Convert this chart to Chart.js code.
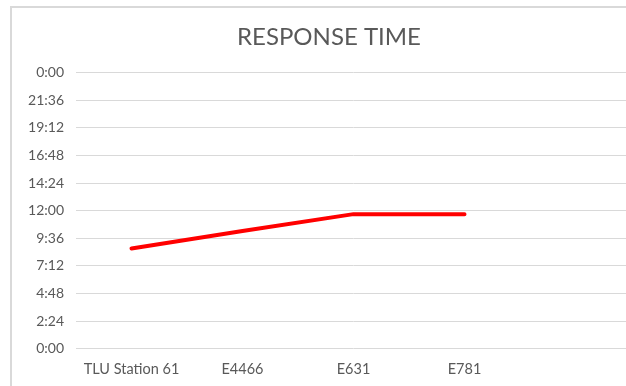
<!DOCTYPE html>
<html>
<head>
<meta charset="utf-8">
<script src="https://cdn.jsdelivr.net/npm/chart.js@4/dist/chart.umd.min.js"></script>
<style>
  html, body { margin: 0; padding: 0; background: #fff; overflow: hidden; }
  #frame {
    position: absolute; left: 10px; top: 6px; width: 640px; height: 400px;
    border-left: 2px solid #d9d9d9; border-top: 2px solid #d9d9d9;
  }
  #wrap { position: absolute; left: 0; top: 0; width: 640px; height: 390px; }
</style>
</head>
<body>
<div id="frame"></div>
<div id="wrap"><canvas id="chart"></canvas></div>
<script>
// Stations along the x axis (last slot left empty)
const categories = ['TLU Station 61', 'E4466', 'E631', 'E781', ''];
// Response time per station, in minutes
const responseMinutes = [523, 614, 702, 702];
// Axis runs over one full day in 2:24 steps
const axisMaxMinutes = 1440;
const axisStepMinutes = 144;

function formatClock(mins) {
  const m = Math.round(mins) % 1440;
  const h = Math.floor(m / 60);
  const mm = m % 60;
  return h + ':' + String(mm).padStart(2, '0');
}

const FONT = "Lato, 'Open Sans', sans-serif";
const GREY = '#595959';

new Chart(document.getElementById('chart'), {
  type: 'line',
  data: {
    labels: categories,
    datasets: [{
      label: 'Response time',
      data: responseMinutes,
      borderColor: '#ff0000',
      backgroundColor: '#ff0000',
      borderWidth: 4,
      borderCapStyle: 'round',
      borderJoinStyle: 'round',
      pointRadius: 0,
      tension: 0,
      fill: false
    }]
  },
  options: {
    responsive: true,
    maintainAspectRatio: false,
    animation: false,
    layout: { padding: { left: 27, right: 9, top: 14, bottom: 0 } },
    plugins: {
      legend: { display: false },
      tooltip: { enabled: false },
      title: {
        display: true,
        text: 'RESPONSE TIME',
        color: GREY,
        font: { family: FONT, size: 24, weight: 'normal' },
        padding: { top: 9, bottom: 21 }
      }
    },
    scales: {
      x: {
        offset: true,
        grid: { display: false, drawTicks: false },
        border: { display: false },
        ticks: { color: GREY, font: { family: FONT, size: 14.5 }, padding: 12, maxRotation: 0, autoSkip: false }
      },
      y: {
        min: 0,
        max: axisMaxMinutes,
        afterFit: (s) => { s.width = 49; },
        grid: { color: '#d9d9d9', lineWidth: 1, drawTicks: false },
        border: { display: false },
        ticks: {
          stepSize: axisStepMinutes,
          color: GREY,
          font: { family: FONT, size: 14 },
          padding: 12,
          callback: (v) => formatClock(v)
        }
      }
    }
  }
});
</script>
</body>
</html>
